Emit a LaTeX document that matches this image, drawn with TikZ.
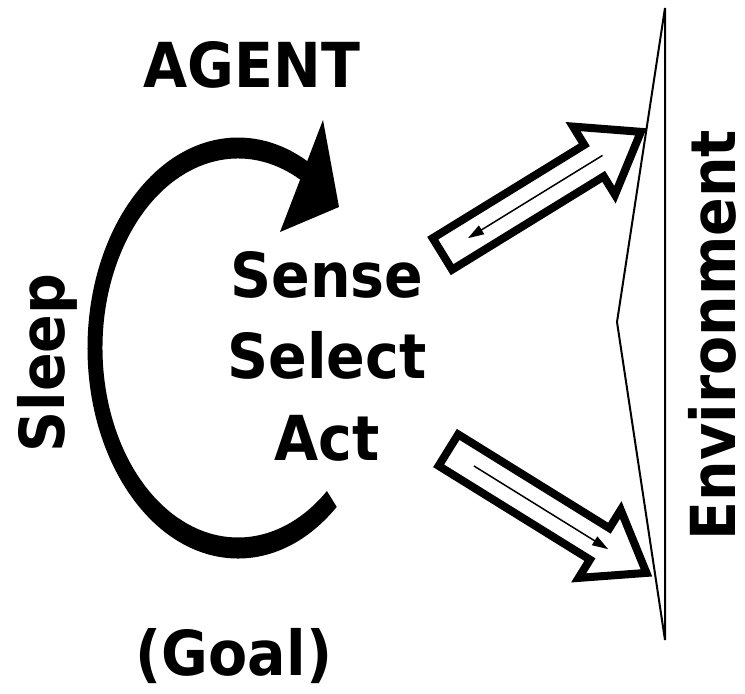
\documentclass[tikz,border=0pt]{standalone}
\usepackage{fontspec}
\newfontfamily\diagfont[FakeStretch=0.92]{DejaVu Sans}
\usetikzlibrary{arrows.meta}

\tikzset{
  word/.style={font=\diagfont\bfseries\fontsize{31}{37}\selectfont, inner sep=0pt, anchor=base},
  hollow/.style={draw, line width=4pt, fill=white, miter limit=10},
  thin/.style={line width=0.75pt},
  >={Triangle[length=8pt,width=5pt]}
}

\begin{document}
\begin{tikzpicture}[x=0.5pt,y=-0.5pt]
\useasboundingbox (0,0) rectangle (745,693);

% environment wall
\draw[line width=1pt] (665,8) -- (617,322) -- (665,640) -- cycle;

% agent loop (thick ring with wide head)
\coordinate (loop) at (238,348);
\fill (loop) ++(49:150.5 and 210.5)
  arc[start angle=49, end angle=301, x radius=150.5, y radius=210.5]
  -- ([shift={(301:135.5 and 189.5)}]loop)
  arc[start angle=301, end angle=49, x radius=135.5, y radius=189.5] -- cycle;
\fill (323,120) -- (339,207) -- (280,232) -- cycle;

% labels
\node[word] (agent) at (252,87) {AGENT};
\node[word] (sense) at (327,297) {Sense};
\node[word] (select) at (327,378) {Select};
\node[word] (act) at (327,460) {Act};
\node[word] (goal) at (234,675) {(Goal)};
\node[word, rotate=90] (sleep) at (64,363) {Sleep};
\node[word, rotate=90] (env) at (735,335) {Environment};

% perception / action arrows
\foreach \tx/\ty/\ang/\dir in {439/256/31.6/<-, 445/448/-31.8/->} {
  \begin{scope}[shift={(\tx,\ty)}, rotate=\ang]
    \draw[hollow] (4,-18.5) -- (182,-18.5) -- (182,-40) -- (237,0)
      -- (182,40) -- (182,18.5) -- (4,18.5) -- cycle;
    \draw[thin, \dir] (34,0) -- (192,0);
  \end{scope}
}
\end{tikzpicture}
\end{document}
